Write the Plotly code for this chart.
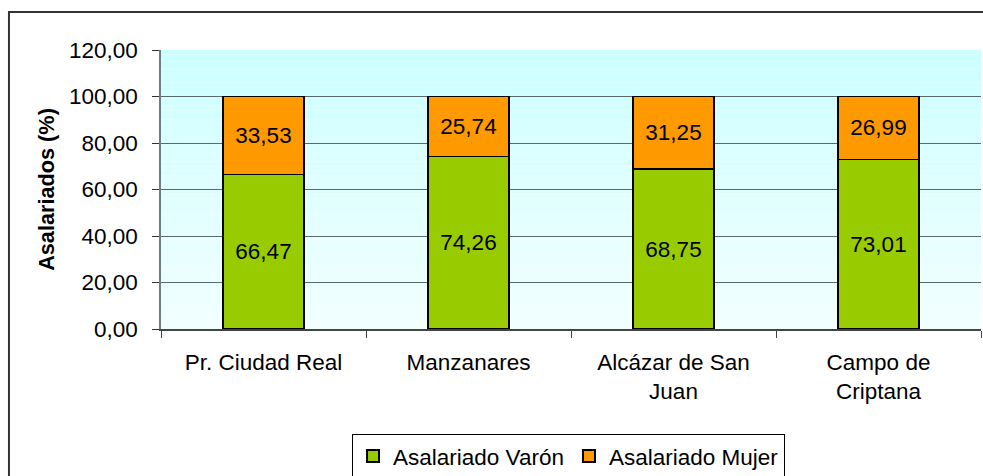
import plotly.graph_objects as go

categories = ["Pr. Ciudad Real", "Manzanares", "Alcázar de San<br>Juan", "Campo de<br>Criptana"]
varon = [66.47, 74.26, 68.75, 73.01]
mujer = [33.53, 25.74, 31.25, 26.99]
y_ticks = [0, 20, 40, 60, 80, 100, 120]
y_tick_labels = ["0,00", "20,00", "40,00", "60,00", "80,00", "100,00", "120,00"]

def fmt(v):
    return f"{v:.2f}".replace(".", ",")

FONT = "Arial, Liberation Sans, sans-serif"
FS = 22.5

fig = go.Figure()
fig.add_trace(go.Bar(
    x=categories, y=varon, name="Asalariado Varón",
    marker=dict(color="#99CC00", line=dict(color="#000000", width=1.5)),
    text=[fmt(v) for v in varon], textposition="inside", insidetextanchor="middle",
    textfont=dict(size=FS, color="#000000", family=FONT), textangle=0,
))
fig.add_trace(go.Bar(
    x=categories, y=mujer, name="Asalariado Mujer",
    marker=dict(color="#FF9900", line=dict(color="#000000", width=1.5)),
    text=[fmt(v) for v in mujer], textposition="inside", insidetextanchor="middle",
    textfont=dict(size=FS, color="#000000", family=FONT), textangle=0,
))

# gradient background bands for plot area
shapes = []
n = 60
c0 = (0xCC, 0xFF, 0xFF)
c1 = (0xF2, 0xFF, 0xFF)
for i in range(n):
    t = i / (n - 1)
    col = tuple(round(c0[k] + (c1[k] - c0[k]) * t) for k in range(3))
    shapes.append(dict(type="rect", xref="paper", yref="paper",
                       x0=0, x1=1, y0=1 - (i + 1) / n, y1=1 - i / n,
                       fillcolor="rgb(%d,%d,%d)" % col, line=dict(width=0), layer="below"))
# outer chart border (right and bottom edges fall outside the image)
shapes.append(dict(type="rect", xref="paper", yref="paper",
                   x0=-0.1854, x1=1.05, y0=-0.6, y1=1.1362,
                   line=dict(color="#333333", width=2), fillcolor="rgba(0,0,0,0)", layer="above"))

fig.update_layout(
    width=983, height=476,
    margin=dict(l=161, r=2, t=50, b=147, autoexpand=False),
    paper_bgcolor="#FFFFFF", plot_bgcolor="rgba(0,0,0,0)",
    barmode="stack", bargap=0.605,
    font=dict(family=FONT, size=FS, color="#000000"),
    shapes=shapes,
    showlegend=True,
    legend=dict(orientation="h", x=0.497, xanchor="center", y=-0.376, yanchor="top",
                bordercolor="#000000", borderwidth=1, bgcolor="#FFFFFF",
                font=dict(size=FS, family=FONT), traceorder="normal",
                itemwidth=30, itemsizing="constant"),
    uniformtext=dict(mode="show", minsize=10),
)
fig.update_yaxes(
    range=[0, 120], tickvals=y_ticks, ticktext=y_tick_labels,
    showgrid=True, gridcolor="#5a6a6a", gridwidth=1,
    showline=True, linecolor="#6a8080", linewidth=1.5,
    ticks="outside", ticklen=7, tickcolor="#333333", ticklabelstandoff=10,
    zeroline=False, automargin=False,
    title=dict(text="<b>Asalariados (%)</b>", font=dict(size=21.7, family=FONT), standoff=8),
    fixedrange=True,
)
fig.update_xaxes(
    showline=True, linecolor="#444444", linewidth=1.5,
    ticks="outside", tickson="boundaries", ticklen=7, tickcolor="#444444",
    ticklabelstandoff=12, showgrid=False, fixedrange=True, automargin=False,
)

fig.write_html(
    "out.html",
    config={"displayModeBar": False},
    post_script="document.body.style.margin='0';document.body.style.overflow='hidden';",
)
